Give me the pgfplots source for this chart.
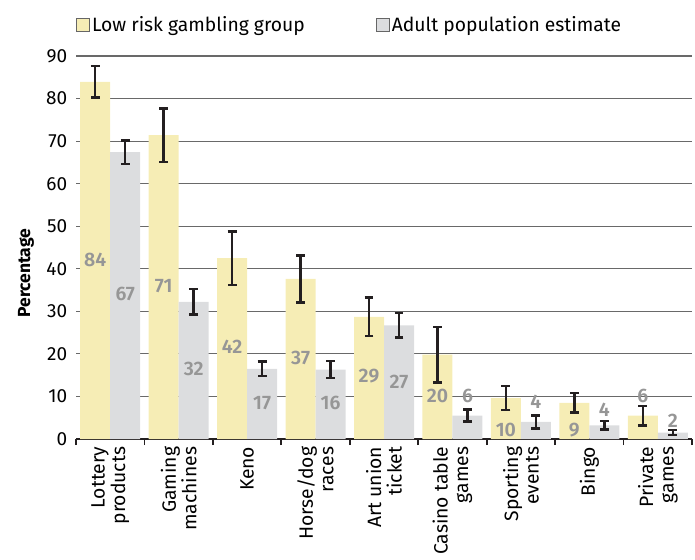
\documentclass[border=0pt]{standalone}
\usepackage{pgfplots}
\pgfplotsset{compat=1.18}
\usepackage{pgfplotstable}
\usepackage{fontspec}
\setmainfont{Fira Sans}
\newfontfamily\semib{Fira Sans}[UprightFont=* SemiBold]
\definecolor{lowrisk}{RGB}{246,237,181}
\definecolor{adultc}{RGB}{220,221,223}
\definecolor{labc}{RGB}{150,150,150}
\definecolor{errc}{RGB}{35,31,32}
\definecolor{gridc}{RGB}{105,105,105}

\pgfplotstableread{
x y e ly lab
0 83.9 3.7 42.0 84
1 71.4 6.3 36.0 71
2 42.5 6.3 21.6 42
3 37.6 5.5 19.0 37
4 28.7 4.5 14.9 29
5 19.8 6.5 10.1 20
6 9.6 2.8 2.2 10
7 8.5 2.3 2.2 9
8 5.5 2.3 10.2 6
}\lowtab

\pgfplotstableread{
x y e ly lab
0 67.4 2.8 34.1 67
1 32.2 3.0 16.5 32
2 16.5 1.7 8.5 17
3 16.3 2.0 8.5 16
4 26.7 2.9 13.5 27
5 5.5 1.4 10.2 6
6 4.0 1.5 8.7 4
7 3.2 1.0 6.9 4
8 1.5 0.6 4.3 2
}\adulttab

\begin{document}
\begin{tikzpicture}
\useasboundingbox (0pt,0pt) rectangle (695pt,559pt);
\begin{axis}[
  at={(76pt,120pt)}, anchor=south west,
  scale only axis, width=616pt, height=383pt,
  ybar=0pt, bar width=30pt,
  xmin=-0.5, xmax=8.5, ymin=0, ymax=90,
  axis x line*=bottom, axis y line*=left,
  y axis line style={draw=none},
  x axis line style={line width=1.8pt, errc},
  xtick={0,...,8},
  xticklabels={{Lottery\\products},{Gaming\\machines},{Keno},{Horse/dog\\races},{Art union\\ticket},{Casino table\\games},{Sporting\\events},{Bingo},{Private\\games}},
  xticklabel style={rotate=90, anchor=east, align=right, font=\fontsize{19.3}{20.5}\selectfont, text=black},
  major x tick style={draw=none},
  minor xtick={-0.5,0.5,...,8.5},
  minor tick length=6pt,
  minor x tick style={line width=1.8pt, errc},
  tick align=outside, xtick pos=bottom,
  ytick={0,10,...,90},
  ytick style={draw=none},
  yticklabel style={font=\fontsize{19}{20}\selectfont, /pgf/number format/assume math mode=true, xshift=-1pt},
  ymajorgrids,
  grid style={gridc, line width=1.2pt},
  ylabel={Percentage},
  ylabel style={font=\bfseries\fontsize{17.5}{20}\selectfont, at={(axis description cs:-0.081,0.433)}, anchor=center},
  legend style={at={(axis description cs:0,1)}, anchor=west, yshift=31.5pt, draw=none, fill=none, inner sep=0pt, legend columns=2, font=\fontsize{19.3}{20}\selectfont, /tikz/every odd column/.append style={column sep=0pt}},
  legend cell align=left,
  legend image code/.code={\draw[#1, draw=black!60, line width=0.8pt] (0pt,-6.5pt) rectangle (13pt,6.5pt);},
  clip=false,
]
\addplot[fill=lowrisk, draw=none, bar shift=-15pt,
  error bars/.cd, y dir=both, y explicit,
  error bar style={line width=2.5pt, errc},
  error mark options={rotate=90, mark size=4.4pt, line width=2.5pt, errc}]
  table[x=x, y=y, y error=e] {\lowtab};
\addlegendentry{\makebox[282pt][l]{Low risk gambling group}}
\addplot[fill=adultc, draw=none, bar shift=15pt,
  error bars/.cd, y dir=both, y explicit,
  error bar style={line width=2.5pt, errc},
  error mark options={rotate=90, mark size=4.4pt, line width=2.5pt, errc}]
  table[x=x, y=y, y error=e] {\adulttab};
\addlegendentry{Adult population estimate}
\addplot[draw=none, fill=none, bar shift=-15pt, forget plot,
  nodes near coords, point meta=explicit symbolic,
  every node near coord/.append style={anchor=center, font=\semib\fontsize{19.5}{20}\selectfont, text=labc}]
  table[x=x, y=ly, meta=lab] {\lowtab};
\addplot[draw=none, fill=none, bar shift=15pt, forget plot,
  nodes near coords, point meta=explicit symbolic,
  every node near coord/.append style={anchor=center, font=\semib\fontsize{19.5}{20}\selectfont, text=labc}]
  table[x=x, y=ly, meta=lab] {\adulttab};
\end{axis}
\end{tikzpicture}
\end{document}
